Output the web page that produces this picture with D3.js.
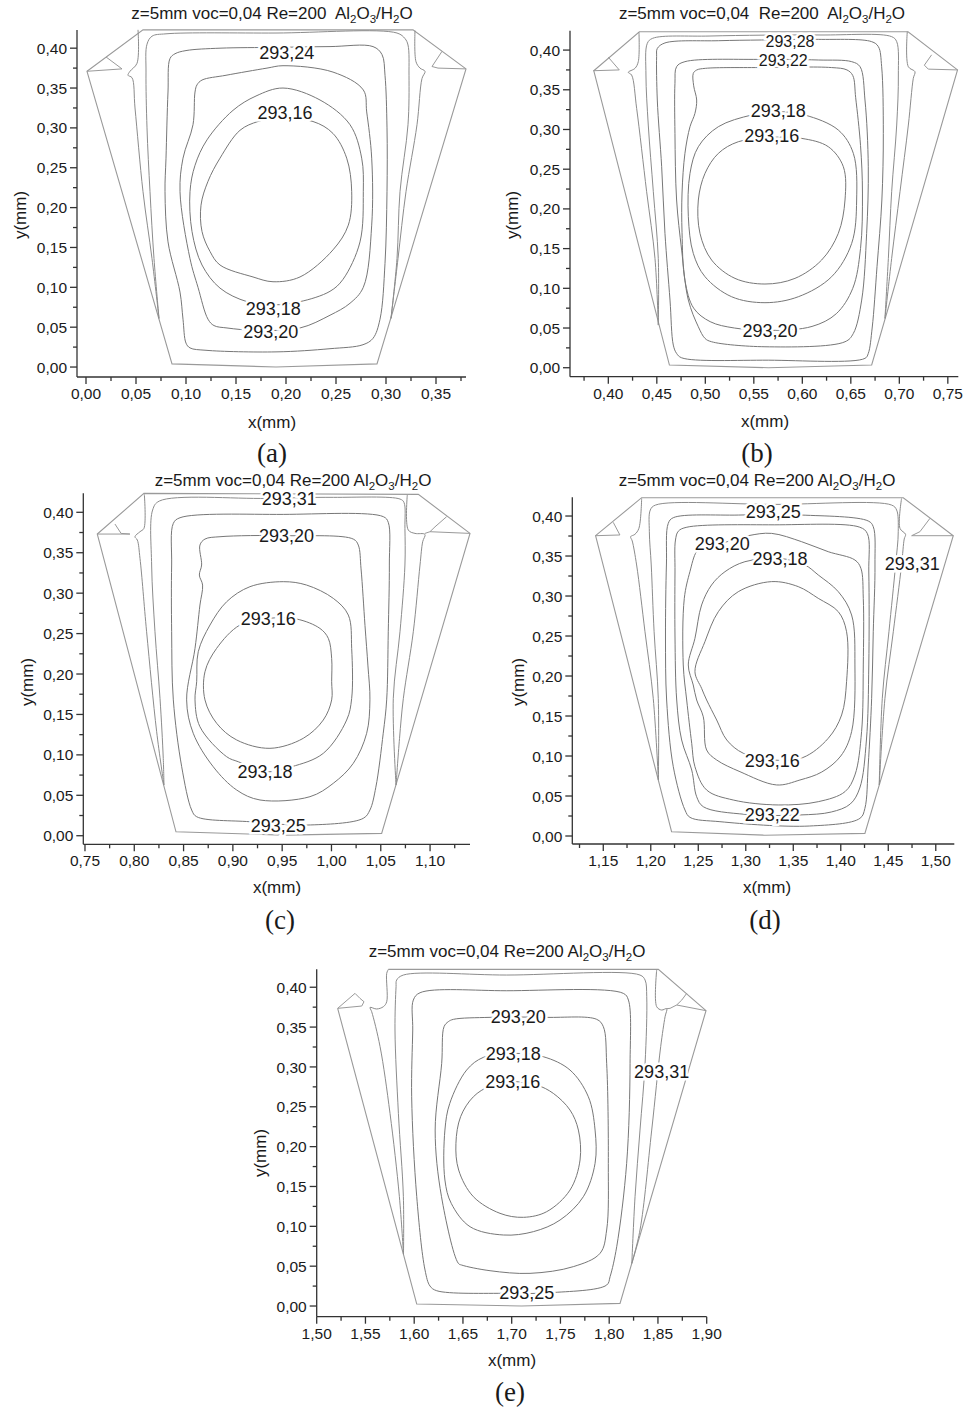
<!DOCTYPE html>
<html>
<head>
<meta charset="utf-8">
<script src="https://cdn.jsdelivr.net/npm/d3@7"></script>
<style>
body { margin: 0; background: #fff; }
svg text { font-family: "Liberation Sans", Arial, sans-serif; fill: #1a1a1a; }
</style>
</head>
<body>
<svg id="fig" width="965" height="1411"></svg>
<script>
// ---------- panel (a) ----------
var trapA = [[0.001,0.371],[0.086,0.004],[0.19,0.0],[0.291,0.004],[0.38,0.374],[0.327,0.423],[0.057,0.423]];
var earsA = [
  [[0.020,0.389],[0.036,0.374],[0.001,0.371]],
  [[0.356,0.396],[0.346,0.377],[0.352,0.375],[0.38,0.374]]
];
var openA = [
  [[0.052,0.423],[0.051,0.381],[0.044,0.371],[0.042,0.366],[0.046,0.363],[0.049,0.325],[0.057,0.22],[0.066,0.136],[0.073,0.061]],
  [[0.329,0.422],[0.330,0.383],[0.334,0.375],[0.339,0.371],[0.336,0.362],[0.331,0.304],[0.320,0.22],[0.312,0.136],[0.305,0.061]],
  [[0.073,0.061],[0.068,0.136],[0.064,0.22],[0.061,0.30],[0.060,0.37],[0.061,0.405],[0.066,0.415],[0.08,0.418],[0.19,0.419],[0.311,0.419],[0.319,0.412],[0.322,0.404],[0.323,0.366],[0.322,0.304],[0.314,0.22],[0.311,0.136],[0.305,0.061]]
];
var closedA = [
  [[0.084,0.387],[0.089,0.393],[0.10,0.397],[0.134,0.40],[0.19,0.401],[0.244,0.402],[0.287,0.402],[0.296,0.392],[0.299,0.366],[0.301,0.30],[0.301,0.22],[0.299,0.13],[0.294,0.06],[0.287,0.036],[0.277,0.028],[0.244,0.023],[0.19,0.019],[0.12,0.021],[0.104,0.024],[0.10,0.03],[0.097,0.06],[0.094,0.094],[0.082,0.157],[0.079,0.22],[0.08,0.262],[0.082,0.345]],
  [[0.111,0.354],[0.116,0.36],[0.14,0.366],[0.181,0.375],[0.197,0.378],[0.247,0.370],[0.2773,0.3476],[0.2807,0.32],[0.2857,0.262],[0.2857,0.178],[0.2773,0.1],[0.264,0.08],[0.244,0.065],[0.214,0.049],[0.17,0.046],[0.141,0.049],[0.128,0.052],[0.122,0.06],[0.112,0.1],[0.104,0.136],[0.094,0.22],[0.097,0.262],[0.107,0.304],[0.109,0.345]],
  [[0.197,0.35],[0.234,0.335],[0.264,0.304],[0.2757,0.262],[0.2773,0.22],[0.274,0.157],[0.257,0.11],[0.244,0.095],[0.214,0.082],[0.187,0.078],[0.161,0.082],[0.134,0.099],[0.116,0.128],[0.106,0.17],[0.104,0.22],[0.109,0.253],[0.121,0.285],[0.147,0.322],[0.17,0.34]],
  [[0.19,0.312],[0.227,0.308],[0.247,0.293],[0.2607,0.262],[0.2657,0.22],[0.2623,0.178],[0.247,0.147],[0.214,0.113],[0.187,0.107],[0.167,0.113],[0.134,0.128],[0.124,0.145],[0.116,0.17],[0.115,0.203],[0.122,0.233],[0.134,0.262],[0.154,0.297],[0.172,0.308]]
];
var labelsA = [
  {t: "293,24", x: 0.2007, y: 0.394},
  {t: "293,16", x: 0.199, y: 0.3187},
  {t: "293,18", x: 0.1873, y: 0.074},
  {t: "293,20", x: 0.1847, y: 0.0448}
];

// ---------- panel (b) ----------
var trapB = [[0.385,0.374],[0.463,0.0034],[0.565,0.0],[0.6715,0.0034],[0.760,0.375],[0.709,0.423],[0.432,0.423]];
var earsB = [
  [[0.4,0.391],[0.4113,0.375],[0.3845,0.374]],
  [[0.7333,0.394],[0.7258,0.381],[0.7299,0.376],[0.760,0.375]]
];
var openB = [
  [[0.4316,0.4223],[0.4309,0.3854],[0.4275,0.377],[0.4206,0.372],[0.424,0.3686],[0.4292,0.3266],[0.4395,0.2217],[0.4481,0.1377],[0.4515,0.0537]],
  [[0.7082,0.4232],[0.7093,0.379],[0.7161,0.3728],[0.7144,0.3644],[0.7093,0.3056],[0.7007,0.2217],[0.6921,0.1377],[0.6852,0.0621]],
  [[0.4515,0.0537],[0.4515,0.1377],[0.4464,0.2217],[0.4412,0.3056],[0.4388,0.3686],[0.4402,0.4085],[0.4457,0.4148],[0.5048,0.4177],[0.6182,0.419],[0.6921,0.4169],[0.6973,0.4106],[0.699,0.3686],[0.6973,0.3056],[0.6921,0.2217],[0.6887,0.1377],[0.6852,0.0621]]
];
var closedB = [
  [[0.4505,0.402],[0.4584,0.409],[0.5134,0.4118],[0.558,0.4127],[0.6165,0.4135],[0.6715,0.4106],[0.6784,0.4043],[0.6818,0.379],[0.6835,0.2951],[0.682,0.2112],[0.677,0.1272],[0.672,0.05],[0.668,0.018],[0.6646,0.0118],[0.565,0.0095],[0.4756,0.0125],[0.4704,0.018],[0.467,0.0285],[0.4636,0.0852],[0.4584,0.1692],[0.455,0.2531],[0.4505,0.3371],[0.4498,0.3917]],
  [[0.4704,0.3791],[0.479,0.3854],[0.5546,0.3883],[0.6165,0.3875],[0.6509,0.3854],[0.6595,0.3791],[0.6646,0.3371],[0.668,0.2531],[0.6663,0.1692],[0.6612,0.0852],[0.6526,0.0432],[0.644,0.0327],[0.5615,0.0264],[0.5065,0.0327],[0.4997,0.0369],[0.4928,0.0516],[0.4825,0.0852],[0.4756,0.1482],[0.4704,0.2112],[0.4687,0.2951],[0.4687,0.3581]],
  [[0.4876,0.3707],[0.4911,0.3749],[0.50,0.377],[0.56,0.378],[0.63,0.378],[0.646,0.375],[0.652,0.368],[0.655,0.34],[0.66,0.28],[0.662,0.22],[0.66,0.15],[0.652,0.10],[0.635,0.068],[0.61,0.052],[0.5667,0.047],[0.53,0.05],[0.505,0.058],[0.488,0.075],[0.479,0.11],[0.476,0.17],[0.476,0.22],[0.479,0.27],[0.4842,0.3035],[0.4893,0.3203],[0.4911,0.3371],[0.488,0.355]],
  [[0.5753,0.3224],[0.6027,0.3182],[0.6371,0.2993],[0.6526,0.2699],[0.656,0.2112],[0.6509,0.1566],[0.6302,0.1146],[0.5959,0.0894],[0.5615,0.0819],[0.5271,0.0894],[0.4997,0.1146],[0.4876,0.144],[0.4825,0.1902],[0.4842,0.2448],[0.4928,0.2783],[0.5134,0.3035],[0.5478,0.3182]],
  [[0.5684,0.2901],[0.5993,0.2888],[0.6268,0.2783],[0.6423,0.2531],[0.644,0.2112],[0.6371,0.1692],[0.6199,0.1356],[0.5924,0.1125],[0.5615,0.1054],[0.5306,0.1125],[0.5065,0.1356],[0.4945,0.1692],[0.4928,0.2112],[0.4997,0.2448],[0.5134,0.2699],[0.534,0.2846]]
];
var labelsB = [
  {t: "293,28", x: 0.5873, y: 0.4108, size: 16},
  {t: "293,22", x: 0.5804, y: 0.3876, size: 16},
  {t: "293,18", x: 0.5753, y: 0.3245},
  {t: "293,16", x: 0.5684, y: 0.293},
  {t: "293,20", x: 0.5667, y: 0.0474}
];

// ---------- panel (c) ----------
var trapC = [[0.7625,0.3731],[0.8423,0.0049],[0.9511,0.0008],[1.0509,0.0029],[1.1405,0.3739],[1.0881,0.4222],[0.8098,0.4234]];
var earsC = [
  [[0.7804,0.3855],[0.7866,0.3739],[0.7956,0.3731],[0.7625,0.3731]],
  [[1.1168,0.3946],[1.105,0.382],[1.0999,0.376],[1.0948,0.3739]],
  [[1.0999,0.376],[1.1405,0.3739]]
];
var openC = [
  [[0.8102,0.4222],[0.8098,0.3801],[0.8058,0.376],[0.8007,0.3698],[0.8031,0.3657],[0.8058,0.343],[0.8125,0.2523],[0.8227,0.1286],[0.8301,0.0627]],
  [[1.0769,0.4214],[1.0779,0.3781],[1.0847,0.3739],[1.0948,0.3727],[1.0925,0.3636],[1.0898,0.3348],[1.083,0.2523],[1.0729,0.1699],[1.069,0.12],[1.0655,0.0627]],
  [[0.8301,0.0627],[0.8294,0.0957],[0.8261,0.1699],[0.821,0.2523],[0.8176,0.3348],[0.8186,0.4028],[0.8254,0.4139],[0.9342,0.4172],[1.0019,0.4185],[1.0695,0.4164],[1.0735,0.4123],[1.0745,0.3801],[1.0745,0.3348],[1.0695,0.2523],[1.0627,0.1699],[1.0655,0.0627]]
];
var closedC = [
  [[0.8396,0.3863],[0.8464,0.3933],[0.9511,0.3974],[1.0526,0.3946],[1.0576,0.3876],[1.0587,0.3348],[1.0576,0.2523],[1.056,0.168],[1.0525,0.1267],[1.045,0.06],[1.039,0.0318],[1.0322,0.0215],[0.9749,0.0132],[0.9173,0.0173],[0.8633,0.0235],[0.8582,0.0318],[0.8481,0.0853],[0.8396,0.168],[0.8379,0.2523],[0.8379,0.3348]],
  [[0.8666,0.3595],[0.8717,0.3669],[0.8869,0.3698],[0.9545,0.3711],[1.0221,0.3669],[1.0272,0.3595],[1.03,0.33],[1.034,0.26],[1.037,0.21],[1.039,0.168],[1.0357,0.1267],[1.0221,0.0895],[1.0018,0.0648],[0.9782,0.0483],[0.9275,0.0442],[0.9039,0.0565],[0.8801,0.0853],[0.8598,0.1267],[0.8531,0.168],[0.8616,0.2317],[0.8666,0.2853],[0.8693,0.31],[0.866,0.3224],[0.8683,0.3348]],
  [[0.9511,0.3142],[0.9748,0.31],[1.0019,0.2935],[1.0171,0.2729],[1.0205,0.2317],[1.0205,0.1699],[1.0154,0.1431],[0.9917,0.1019],[0.9596,0.0853],[0.9326,0.0792],[0.9055,0.0915],[0.8937,0.0977],[0.8666,0.1348],[0.8616,0.168],[0.8633,0.1905],[0.8649,0.2276],[0.8768,0.2606],[0.8937,0.2894],[0.9173,0.308]],
  [[0.9359,0.2688],[0.9647,0.268],[0.9883,0.2564],[0.9968,0.2441],[1.0002,0.2193],[1.0002,0.1905],[1.0002,0.168],[0.9917,0.1431],[0.9714,0.1205],[0.9376,0.1081],[0.9039,0.1184],[0.8836,0.139],[0.8717,0.168],[0.8717,0.2028],[0.8835,0.2317],[0.9072,0.2606]]
];
var labelsC = [
  {t: "293,31", x: 0.9572, y: 0.4172},
  {t: "293,20", x: 0.9545, y: 0.3711},
  {t: "293,16", x: 0.9359, y: 0.2688},
  {t: "293,18", x: 0.9325, y: 0.0792},
  {t: "293,25", x: 0.9461, y: 0.0132}
];

// ---------- panel (d) ----------
var trapD = [[1.1419,0.3754],[1.2219,0.0054],[1.32,0.001],[1.4254,0.0033],[1.5184,0.3754],[1.4658,0.4229],[1.1904,0.4229]];
var earsD = [
  [[1.1605,0.3921],[1.1675,0.3763],[1.1419,0.3754]],
  [[1.4939,0.3971],[1.4833,0.3804],[1.4746,0.3754],[1.5184,0.3754]]
];
var openD = [
  [[1.1904,0.422],[1.1875,0.3846],[1.1833,0.3771],[1.1788,0.3742],[1.1805,0.3688],[1.1851,0.3388],[1.1939,0.2554],[1.2026,0.1721],[1.208,0.07]],
  [[1.464,0.422],[1.4623,0.3846],[1.4682,0.3771],[1.4668,0.3713],[1.464,0.3388],[1.4553,0.2554],[1.4465,0.1721],[1.4405,0.0638]],
  [[1.208,0.07],[1.2079,0.1721],[1.2035,0.2554],[1.2005,0.3388],[1.1985,0.3804],[1.1995,0.4075],[1.205,0.4137],[1.33,0.4145],[1.4535,0.4137],[1.4588,0.4075],[1.4605,0.3804],[1.4577,0.3388],[1.4507,0.2554],[1.4437,0.1721],[1.4405,0.0638]]
];
var closedD = [
  [[1.2184,0.3908],[1.2237,0.3979],[1.2921,0.4012],[1.3588,0.4012],[1.4289,0.3938],[1.4342,0.3867],[1.436,0.3388],[1.4342,0.2554],[1.4325,0.1721],[1.4289,0.0888],[1.4254,0.0346],[1.4202,0.0221],[1.3674,0.0125],[1.2728,0.0179],[1.2413,0.0233],[1.236,0.0325],[1.2237,0.0866],[1.2167,0.17],[1.2155,0.25],[1.2165,0.34]],
  [[1.226,0.37],[1.229,0.381],[1.238,0.386],[1.33,0.389],[1.42,0.386],[1.428,0.378],[1.4295,0.33],[1.4295,0.2138],[1.427,0.12],[1.42,0.06],[1.41,0.04],[1.39,0.03],[1.357,0.0263],[1.2992,0.0271],[1.2553,0.0366],[1.2483,0.0491],[1.2431,0.0825],[1.2325,0.12],[1.2273,0.17],[1.2255,0.25],[1.2255,0.33]],
  [[1.2553,0.3617],[1.2746,0.366],[1.3026,0.3754],[1.3272,0.3783],[1.3588,0.3679],[1.3868,0.3554],[1.4149,0.345],[1.4212,0.3346],[1.4237,0.2971],[1.4237,0.2138],[1.4219,0.1304],[1.4149,0.0763],[1.4044,0.0554],[1.3763,0.0429],[1.3342,0.0388],[1.2868,0.045],[1.2588,0.0575],[1.2465,0.0866],[1.2431,0.1158],[1.2378,0.17],[1.2342,0.2138],[1.2353,0.2971],[1.2412,0.3304],[1.2482,0.3554]],
  [[1.336,0.347],[1.3623,0.3388],[1.3763,0.3263],[1.3974,0.3054],[1.4114,0.2763],[1.4149,0.2138],[1.4114,0.1304],[1.40,0.1],[1.38,0.08],[1.357,0.07],[1.3325,0.0638],[1.2939,0.0804],[1.2694,0.095],[1.2588,0.1075],[1.2553,0.149],[1.2483,0.17],[1.2447,0.1888],[1.2395,0.2138],[1.2465,0.2471],[1.2535,0.2888],[1.264,0.3138],[1.2781,0.3304],[1.2991,0.3429]],
  [[1.3272,0.318],[1.3553,0.3117],[1.3763,0.2971],[1.3974,0.2804],[1.4061,0.2554],[1.4061,0.1929],[1.4009,0.1513],[1.3868,0.1221],[1.36,0.098],[1.329,0.095],[1.2974,0.1034],[1.28,0.12],[1.2694,0.145],[1.2588,0.17],[1.2535,0.1846],[1.2465,0.2054],[1.257,0.2429],[1.2711,0.2804],[1.2921,0.3054]]
];
var labelsD = [
  {t: "293,25", x: 1.329, y: 0.4054},
  {t: "293,20", x: 1.2753, y: 0.365},
  {t: "293,18", x: 1.336, y: 0.3463},
  {t: "293,31", x: 1.4753, y: 0.3408},
  {t: "293,16", x: 1.3279, y: 0.0938},
  {t: "293,22", x: 1.3279, y: 0.0271}
];

// ---------- panel (e) ----------
var trapE = [[1.5735,0.4224],[1.8504,0.4224],[1.8993,0.3706],[1.8111,0.0033],[1.71,0.0],[1.6026,0.0025],[1.5215,0.3735]];
var earsE = [
  [[1.5215,0.3735],[1.5393,0.3923],[1.5444,0.386],[1.5485,0.3818],[1.5462,0.3764],[1.5215,0.3735]],
  [[1.8795,0.3923],[1.8744,0.3839],[1.8692,0.3777],[1.8624,0.3735],[1.859,0.3731]],
  [[1.8692,0.3777],[1.8993,0.3706]]
];
var openE = [
  [[1.5735,0.4224],[1.5718,0.4174],[1.5718,0.3818],[1.5684,0.3756],[1.5615,0.3727],[1.5547,0.3747],[1.5564,0.3693],[1.565,0.3254],[1.5752,0.2417],[1.5848,0.1372],[1.589,0.065]],
  [[1.8487,0.4216],[1.8487,0.3756],[1.8538,0.3714],[1.859,0.3731],[1.8573,0.363],[1.8528,0.3254],[1.8436,0.2208],[1.8316,0.0954],[1.8232,0.0535]],
  [[1.589,0.065],[1.5889,0.1372],[1.5838,0.2417],[1.5803,0.3463],[1.5814,0.4007],[1.582,0.409],[1.5889,0.4153],[1.6949,0.4153],[1.8316,0.4153],[1.8368,0.409],[1.8385,0.3881],[1.8368,0.3045],[1.8316,0.2208],[1.8265,0.1372],[1.8232,0.0535]]
];
var closedE = [
  [[1.5991,0.3839],[1.606,0.3931],[1.6949,0.3956],[1.8145,0.3923],[1.8197,0.3839],[1.8214,0.3045],[1.8179,0.179],[1.8077,0.0744],[1.8009,0.0368],[1.7974,0.0263],[1.7393,0.0167],[1.6949,0.0159],[1.6231,0.0192],[1.6162,0.0251],[1.6111,0.0452],[1.6026,0.1372],[1.5974,0.2626],[1.5985,0.3463]],
  [[1.6306,0.3505],[1.635,0.3568],[1.6402,0.3597],[1.6778,0.3622],[1.7359,0.3622],[1.7872,0.3597],[1.794,0.3505],[1.7974,0.3045],[1.7991,0.179],[1.7974,0.0954],[1.7906,0.0661],[1.7632,0.0494],[1.7188,0.041],[1.6778,0.0443],[1.6487,0.0514],[1.6453,0.0535],[1.628,0.1372],[1.6215,0.2208],[1.6282,0.3045]],
  [[1.7017,0.317],[1.7325,0.3128],[1.7598,0.2961],[1.7786,0.2626],[1.7855,0.2208],[1.7855,0.179],[1.7735,0.1372],[1.7496,0.1079],[1.7222,0.0933],[1.6915,0.0891],[1.6573,0.0995],[1.638,0.1288],[1.6315,0.1581],[1.6315,0.2208],[1.6365,0.2543],[1.6538,0.2961],[1.6709,0.312]],
  [[1.701,0.2815],[1.7256,0.2773],[1.7427,0.2668],[1.7598,0.2459],[1.7684,0.2208],[1.7701,0.1832],[1.7598,0.1455],[1.7359,0.1184],[1.712,0.1113],[1.688,0.1163],[1.6607,0.1372],[1.6456,0.1706],[1.6428,0.2041],[1.6476,0.2376],[1.6607,0.2626],[1.6778,0.276]]
];
var labelsE = [
  {t: "293,20", x: 1.7068, y: 0.363},
  {t: "293,18", x: 1.7017, y: 0.317},
  {t: "293,16", x: 1.701, y: 0.2815},
  {t: "293,31", x: 1.8538, y: 0.294},
  {t: "293,25", x: 1.7154, y: 0.0167}
];

var titles = ["z=5mm voc=0,04 Re=200  Al", "z=5mm voc=0,04  Re=200  Al", "z=5mm voc=0,04 Re=200 Al", "z=5mm voc=0,04 Re=200 Al", "z=5mm voc=0,04 Re=200 Al"];
var captions = ["(a)", "(b)", "(c)", "(d)", "(e)"];

// layout of each panel in the page
var panels = [
  {trap: trapA, trapClosed: true, ears: earsA, open: openA, closed: closedA, labels: labelsA,
   xd: [-0.009, 0.38], yd: [-0.0125, 0.4228], left: 77, right: 466, top: 30, bottom: 377,
   titleX: 272, titleY: 19, capX: 272, capY: 462, xlabX: 272, xlabY: 428, ylabX: 26, ylabY: 215},
  {trap: trapB, trapClosed: true, ears: earsB, open: openB, closed: closedB, labels: labelsB,
   xd: [0.3605, 0.7608], yd: [-0.0113, 0.4244], left: 570, right: 958.3, top: 30.7, bottom: 376.7,
   titleX: 762, titleY: 19, capX: 757, capY: 462, xlabX: 765, xlabY: 427, ylabX: 518, ylabY: 215},
  {trap: trapC, trapClosed: true, ears: earsC, open: openC, closed: closedC, labels: labelsC,
   xd: [0.7483, 1.1405], yd: [-0.0106, 0.4235], left: 83.3, right: 470, top: 493.3, bottom: 844.3,
   titleX: 293, titleY: 486, capX: 280, capY: 929, xlabX: 277, xlabY: 893, ylabX: 33, ylabY: 682},
  {trap: trapD, trapClosed: true, ears: earsD, open: openD, closed: closedD, labels: labelsD,
   xd: [1.1174, 1.5195], yd: [-0.01, 0.4234], left: 572.3, right: 954.3, top: 497.3, bottom: 844,
   titleX: 757, titleY: 486, capX: 765, capY: 929, xlabX: 767, xlabY: 893, ylabX: 524, ylabY: 682},
  {trap: trapE, trapClosed: false, ears: earsE, open: openE, closed: closedE, labels: labelsE,
   xd: [1.5, 1.9], yd: [-0.0134, 0.4225], left: 316.7, right: 706.7, top: 969.3, bottom: 1316.7,
   titleX: 507, titleY: 957, capX: 510, capY: 1401, xlabX: 512, xlabY: 1366, ylabX: 266, ylabY: 1153}
];

var svg = d3.select("#fig");
var fmt = function(v) { return d3.format(".2f")(v).replace(".", ","); };

function drawPanel(p, i) {
  var x = d3.scaleLinear().domain(p.xd).range([p.left, p.right]);
  var y = d3.scaleLinear().domain(p.yd).range([p.bottom, p.top]);
  var g = svg.append("g");

  var lin = d3.line().x(function(d) { return x(d[0]); }).y(function(d) { return y(d[1]); });
  var smooth = d3.line().x(function(d) { return x(d[0]); }).y(function(d) { return y(d[1]); })
    .curve(d3.curveCatmullRom.alpha(0.5));
  var smoothClosed = d3.line().x(function(d) { return x(d[0]); }).y(function(d) { return y(d[1]); })
    .curve(d3.curveCatmullRomClosed.alpha(0.5));

  // channel outline
  g.append("path")
    .attr("d", p.trapClosed ? lin.curve(d3.curveLinearClosed)(p.trap) : lin.curve(d3.curveLinear)(p.trap))
    .attr("fill", "none").attr("stroke", "#9a9a9a").attr("stroke-width", 1.1);
  lin.curve(d3.curveLinear);
  g.selectAll(".ear").data(p.ears).enter().append("path")
    .attr("d", lin)
    .attr("fill", "none").attr("stroke", "#9a9a9a").attr("stroke-width", 1);

  // contours touching the walls
  g.selectAll(".open").data(p.open).enter().append("path")
    .attr("d", smooth)
    .attr("fill", "none").attr("stroke", "#8c8c8c").attr("stroke-width", 1);

  // closed contours
  g.selectAll(".closed").data(p.closed).enter().append("path")
    .attr("d", smoothClosed)
    .attr("fill", "none").attr("stroke", "#777").attr("stroke-width", 1);

  // contour labels: halos first, then the text
  var labSize = function(d) { return (d.size || 18) + "px"; };
  g.selectAll(".halo").data(p.labels).enter().append("text")
    .attr("x", function(d) { return x(d.x); })
    .attr("y", function(d) { return y(d.y); })
    .attr("dy", "0.36em")
    .attr("text-anchor", "middle")
    .style("font-size", labSize)
    .style("fill", "#fff").style("stroke", "#fff").style("stroke-width", 5)
    .text(function(d) { return d.t; });
  g.selectAll(".lab").data(p.labels).enter().append("text")
    .attr("x", function(d) { return x(d.x); })
    .attr("y", function(d) { return y(d.y); })
    .attr("dy", "0.36em")
    .attr("text-anchor", "middle")
    .style("font-size", labSize)
    .text(function(d) { return d.t; });

  // axes
  var xMajor = [], xMinor = [], yMajor = [], yMinor = [];
  d3.range(Math.ceil(p.xd[0] / 0.025 - 1e-6), Math.floor(p.xd[1] / 0.025 + 1e-6) + 1).forEach(function(k) {
    (k % 2 === 0 ? xMajor : xMinor).push(k * 0.025);
  });
  d3.range(Math.ceil(p.yd[0] / 0.025 - 1e-6), Math.floor(p.yd[1] / 0.025 + 1e-6) + 1).forEach(function(k) {
    (k % 2 === 0 ? yMajor : yMinor).push(k * 0.025);
  });

  var ax = g.append("g").attr("stroke", "#333").attr("stroke-width", 1.3);
  ax.append("line").attr("x1", p.left).attr("x2", p.right).attr("y1", p.bottom).attr("y2", p.bottom);
  ax.append("line").attr("x1", p.left).attr("x2", p.left).attr("y1", p.top).attr("y2", p.bottom);
  ax.selectAll(".xt").data(xMajor.concat(xMinor)).enter().append("line")
    .attr("x1", function(d) { return x(d); }).attr("x2", function(d) { return x(d); })
    .attr("y1", p.bottom).attr("y2", function(d, j) { return p.bottom + (j < xMajor.length ? 7 : 4); });
  ax.selectAll(".yt").data(yMajor.concat(yMinor)).enter().append("line")
    .attr("y1", function(d) { return y(d); }).attr("y2", function(d) { return y(d); })
    .attr("x1", p.left).attr("x2", function(d, j) { return p.left - (j < yMajor.length ? 7 : 4); });

  g.selectAll(".xl").data(xMajor).enter().append("text")
    .attr("x", function(d) { return x(d); }).attr("y", p.bottom + 22)
    .attr("text-anchor", "middle").style("font-size", "15.5px")
    .text(fmt);
  g.selectAll(".yl").data(yMajor).enter().append("text")
    .attr("x", p.left - 10).attr("y", function(d) { return y(d); }).attr("dy", "0.36em")
    .attr("text-anchor", "end").style("font-size", "15.5px")
    .text(fmt);

  g.append("text").attr("x", p.xlabX).attr("y", p.xlabY)
    .attr("text-anchor", "middle").style("font-size", "17px").text("x(mm)");
  g.append("text").attr("transform", "translate(" + p.ylabX + "," + p.ylabY + ") rotate(-90)")
    .attr("text-anchor", "middle").style("font-size", "17px").text("y(mm)");

  // title with subscripts
  var t = g.append("text").attr("x", p.titleX).attr("y", p.titleY)
    .attr("text-anchor", "middle").style("font-size", "17px").style("white-space", "pre");
  t.append("tspan").text(titles[i]);
  t.append("tspan").attr("dy", 4).style("font-size", "11.5px").text("2");
  t.append("tspan").attr("dy", -4).text("O");
  t.append("tspan").attr("dy", 4).style("font-size", "11.5px").text("3");
  t.append("tspan").attr("dy", -4).text("/H");
  t.append("tspan").attr("dy", 4).style("font-size", "11.5px").text("2");
  t.append("tspan").attr("dy", -4).text("O");

  g.append("text").attr("x", p.capX).attr("y", p.capY)
    .attr("text-anchor", "middle")
    .style("font-family", "'Liberation Serif', 'Times New Roman', serif")
    .style("font-size", "27px").text(captions[i]);
}

panels.forEach(drawPanel);
</script>
</body>
</html>
